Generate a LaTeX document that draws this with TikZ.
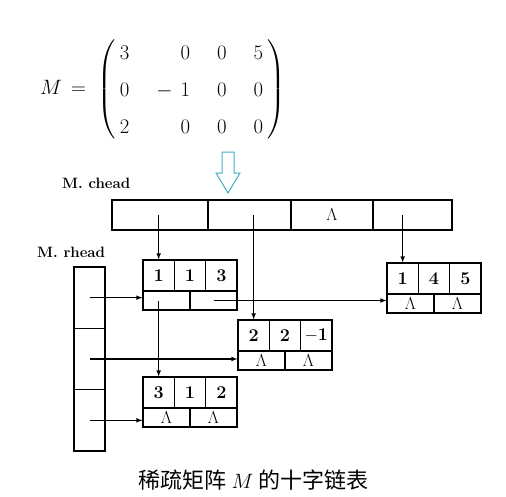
\documentclass[tikz,border=0pt]{standalone}
\usepackage{amsmath}
\usepackage{fontspec}
\newfontfamily\cjkfont{Noto Sans CJK SC}
\usetikzlibrary{arrows}
\definecolor{hollowcyan}{RGB}{70,172,196}

\begin{document}
\begin{tikzpicture}[x=1pt,y=-1pt]

\tikzstyle{valbox} = [rectangle, minimum width=31.33pt, minimum height=31pt, inner sep=0pt, draw=black, line width=1.1pt, font=\fontsize{18}{21}\selectfont\bfseries]
\tikzstyle{ptrbox} = [rectangle, minimum width=47pt, minimum height=19pt, inner sep=0pt, draw=black, line width=1.1pt, font=\fontsize{17}{20}\selectfont]
\tikzstyle{headbox} = [rectangle, minimum height=30pt, inner sep=0pt, draw=black, line width=1.1pt, font=\fontsize{17}{20}\selectfont]
\tikzstyle{rowbox} = [rectangle, minimum width=31pt, minimum height=61.33pt, inner sep=0pt, draw=black, line width=1.1pt]
\tikzstyle{listname} = [anchor=west, inner sep=0pt, font=\fontsize{15}{18}\selectfont\bfseries]
\tikzstyle{ptr} = [-latex, line width=1.1pt]

\useasboundingbox (0,0) rectangle (506,496);

\node[anchor=west, inner sep=0pt] (mat) at (40,89) {\fontsize{21}{23}\selectfont\renewcommand{\arraystretch}{1.63}\setlength{\arraycolsep}{13.5pt}\delimiterfactor=850 \delimitershortfall=20pt $M\,=\;\left(\begin{array}{@{\hspace{4pt}}rrrr@{\hspace{4pt}}} 3 & 0 & 0 & 5\\ 0 & -\mkern7mu 1 & 0 & 0\\ 2 & 0 & 0 & 0 \end{array}\right)$};

\draw[hollowcyan, line width=1pt] (222,152) -- (234,152) -- (234,173) -- (240,173) -- (228,193) -- (216,173) -- (222,173) -- cycle;

\node[listname] (chlabel) at (62,183) {M. chead};
\node[listname] (rhlabel) at (37,252) {M. rhead};

\node[headbox, minimum width=96pt] (ch1) at (160,215) {};
\node[headbox, minimum width=83pt] (ch2) at (249.5,215) {};
\node[headbox, minimum width=82pt] (ch3) at (332,215) {$\Lambda$};
\node[headbox, minimum width=79pt] (ch4) at (412.5,215) {};

\node[rowbox] (rh1) at (89.5,297.67) {};
\node[rowbox] (rh2) at (89.5,359) {};
\node[rowbox] (rh3) at (89.5,420.33) {};

\node[valbox] (a1) at (158.67,275.5) {1};
\node[valbox] (a2) at (190,275.5) {1};
\node[valbox] (a3) at (221.33,275.5) {3};
\node[ptrbox] (a4) at (166.5,300.5) {};
\node[ptrbox] (a5) at (213.5,300.5) {};

\node[valbox] (b1) at (402.67,278.5) {1};
\node[valbox] (b2) at (434,278.5) {4};
\node[valbox] (b3) at (465.33,278.5) {5};
\node[ptrbox] (b4) at (410.5,303.5) {$\Lambda$};
\node[ptrbox] (b5) at (457.5,303.5) {$\Lambda$};

\node[valbox] (c1) at (253.67,335.5) {2};
\node[valbox] (c2) at (285,335.5) {2};
\node[valbox] (c3) at (316.33,335.5) {$-$1};
\node[ptrbox] (c4) at (261.5,360.5) {$\Lambda$};
\node[ptrbox] (c5) at (308.5,360.5) {$\Lambda$};

\node[valbox] (d1) at (158.67,392.5) {3};
\node[valbox] (d2) at (190,392.5) {1};
\node[valbox] (d3) at (221.33,392.5) {2};
\node[ptrbox] (d4) at (166.5,417.5) {$\Lambda$};
\node[ptrbox] (d5) at (213.5,417.5) {$\Lambda$};

\draw[ptr] (a1.north |- ch1.center) -- (a1.north);
\draw[ptr] (c1.north |- ch2.center) -- (c1.north);
\draw[ptr] (b1.north |- ch4.center) -- (b1.north);
\draw[ptr] (d1.north |- a4.center) -- (d1.north);
\draw[ptr] (a5.center) -- (a5.center -| b4.west);
\draw[ptr] (rh1.center) -- (rh1.center -| a4.west);
\draw[ptr] (rh2.center) -- (rh2.center -| c4.west);
\draw[ptr] (rh3.center) -- (rh3.center -| d4.west);

\node[font=\fontsize{22}{26}\selectfont] (caption) at (253.5,480) {\cjkfont 稀疏矩阵 $M$ 的十字链表};

\end{tikzpicture}
\end{document}
